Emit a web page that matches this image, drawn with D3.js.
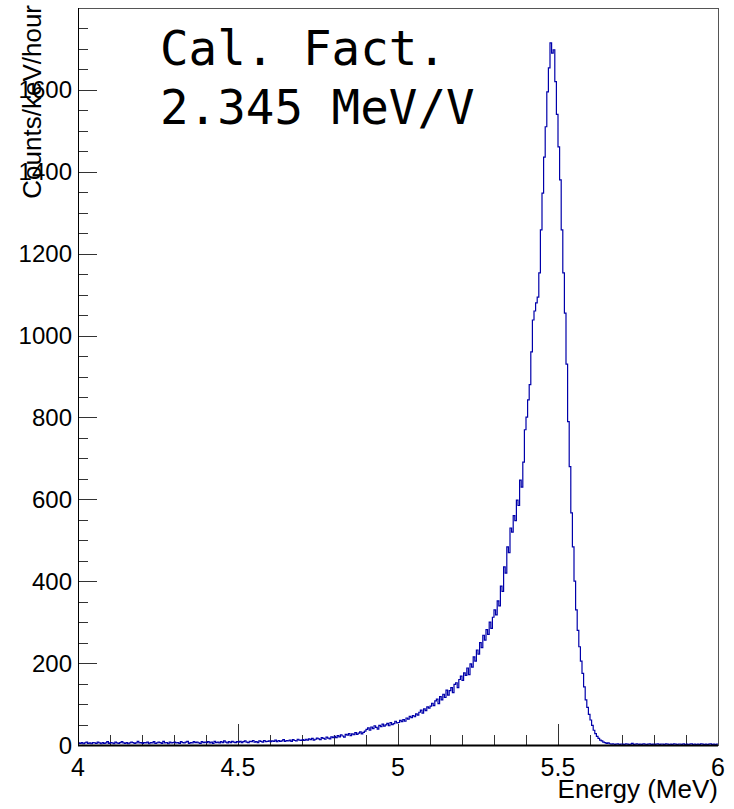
<!DOCTYPE html>
<html>
  <head>
    <meta charset="utf-8">
    <title>Energy spectrum</title>
    <script type="text/javascript" src="https://cdn.jsdelivr.net/npm/d3@7"></script>
    <style>
      body { margin: 0; background: #fff; }
      text { font-family: "Liberation Sans", Arial, Helvetica, sans-serif; }
    </style>
  </head>
  <body>
<script type="text/javascript">
// histogram: 400 bins from 4 to 6 MeV (0.005 MeV wide)
var binLo = 4, binHi = 6, binW = 0.005;
var counts = [
  // 4.0 - 4.5
  5,4,6,3,5,7,4,5,3,6,5,4,7,5,3,6,4,5,8,4,
  6,5,3,7,5,4,6,8,5,4,6,3,5,7,6,4,5,9,5,6,
  4,6,5,7,3,6,5,8,4,5,7,6,4,9,5,6,3,7,5,6,
  7,5,6,4,8,6,5,7,9,4,6,5,8,6,7,5,4,8,6,7,
  6,8,5,7,4,9,6,7,5,8,6,10,7,5,8,6,9,7,6,8,
  // 4.5 - 5.0
  7,9,6,8,10,7,6,9,8,11,7,8,6,10,9,7,11,8,9,10,
  8,10,9,12,8,11,9,10,13,9,11,10,12,9,13,11,10,14,12,11,
  13,11,14,12,15,13,16,12,14,17,15,13,18,16,14,19,17,15,20,18,
  21,18,23,20,25,22,19,26,24,28,23,27,25,30,26,29,32,27,31,34,
  38,42,36,44,40,47,43,39,48,45,51,46,49,53,47,55,50,52,58,54,
  // 5.0 - 5.5
  55,60,57,62,58,66,63,70,67,72,69,76,73,80,85,78,88,84,93,90,
  95,102,96,108,112,101,118,110,124,116,134,122,133,140,128,148,152,140,160,168,
  158,176,170,188,172,198,190,215,205,232,222,250,238,268,256,282,270,300,285,312,
  330,318,352,340,388,375,435,420,484,470,530,520,560,548,598,585,647,630,691,770,
  801,843,880,960,1038,1060,1080,1094,1153,1258,1348,1436,1510,1595,1654,1715,1690,1698,1620,1540,
  // 5.5 - 6.0
  1461,1380,1258,1153,1055,930,790,680,567,484,400,330,280,240,205,175,142,110,92,75,
  61,48,36,28,21,16,12,10,7,6,4,5,3,2,3,1,2,3,1,2,
  2,1,3,2,1,2,4,1,2,3,1,2,1,3,2,1,2,3,1,2,
  1,2,3,1,2,2,1,3,2,1,2,1,3,2,1,2,2,1,3,1,
  2,1,2,3,1,2,1,2,1,3,2,1,2,1,2,3,1,2,1,2
];
var xMajor = [4, 4.5, 5, 5.5, 6];
var xTickLabels = ["4", "4.5", "5", "5.5", "6"];
var yMajor = [0, 200, 400, 600, 800, 1000, 1200, 1400, 1600];
var yMax = 1800;
var titleLines = ["Cal. Fact.", "2.345 MeV/V"];

var w = 734, h = 809;
var padL = 78, padR = 718, padT = 8, padB = 745;
var lineColor = "#0000aa";

var svg = d3.select("body")
            .append("svg")
            .attr("width", w)
            .attr("height", h);

var x = d3.scaleLinear().domain([binLo, binHi]).range([padL, padR]);
var y = d3.scaleLinear().domain([0, yMax]).range([padB, padT]);

// ticks drawn inside the frame, ROOT style
var xMinor = d3.range(21).map(function(i){ return binLo + i * 0.1; });
var yMinor = d3.range(0, yMax, 50);

svg.append("g").selectAll("line")
   .data(xMinor)
   .enter().append("line")
   .attr("x1", function(d){ return Math.round(x(d)) + 0.5; })
   .attr("x2", function(d){ return Math.round(x(d)) + 0.5; })
   .attr("y1", padB)
   .attr("y2", function(d){
      var major = xMajor.some(function(m){ return Math.abs(m - d) < 1e-6; });
      return padB - (major ? 21 : 10);
   })
   .attr("stroke", "#333")
   .attr("stroke-width", 1);

svg.append("g").selectAll("line")
   .data(yMinor)
   .enter().append("line")
   .attr("y1", function(d){ return Math.round(y(d)) + 0.5; })
   .attr("y2", function(d){ return Math.round(y(d)) + 0.5; })
   .attr("x1", padL)
   .attr("x2", function(d){ return padL + (d % 200 === 0 ? 19 : 10); })
   .attr("stroke", "#333")
   .attr("stroke-width", 1);

// step outline of the histogram
var steps = [];
counts.forEach(function(c, i){
  var e0 = binLo + i * binW;
  steps.push([e0, c]);
  steps.push([e0 + binW, c]);
});
var stepLine = d3.line()
                 .x(function(d){ return x(d[0]); })
                 .y(function(d){ return y(d[1]); });
svg.append("path")
   .datum(steps)
   .attr("d", stepLine)
   .attr("fill", "none")
   .attr("stroke", lineColor)
   .attr("stroke-width", 1.2);

// frame
svg.append("rect")
   .attr("x", padL + 0.5)
   .attr("y", padT + 0.5)
   .attr("width", padR - padL)
   .attr("height", padB - padT)
   .attr("fill", "none")
   .attr("stroke", "#555")
   .attr("stroke-width", 1);
svg.append("line")
   .attr("x1", padL).attr("x2", padR)
   .attr("y1", padB + 0.5).attr("y2", padB + 0.5)
   .attr("stroke", "#000").attr("stroke-width", 2);
svg.append("line")
   .attr("x1", padL + 0.5).attr("x2", padL + 0.5)
   .attr("y1", padT).attr("y2", padB)
   .attr("stroke", "#000").attr("stroke-width", 1);

// tick labels
svg.append("g").selectAll("text")
   .data(xMajor)
   .enter().append("text")
   .attr("x", function(d){ return x(d); })
   .attr("y", 776)
   .attr("text-anchor", "middle")
   .attr("font-size", 25)
   .text(function(d, i){ return xTickLabels[i]; });

svg.append("g").selectAll("text")
   .data(yMajor)
   .enter().append("text")
   .attr("x", 72)
   .attr("y", function(d){ return y(d) + 8.5; })
   .attr("text-anchor", "end")
   .attr("font-size", 24)
   .text(function(d){ return d; });

// axis titles
svg.append("text")
   .attr("x", padR)
   .attr("y", 798)
   .attr("text-anchor", "end")
   .attr("font-size", 26)
   .text("Energy (MeV)");

svg.append("text")
   .attr("transform", "translate(41,5) rotate(-90)")
   .attr("text-anchor", "end")
   .attr("font-size", 26)
   .text("Counts/keV/hour");

// calibration note
svg.append("g").selectAll("text")
   .data(titleLines)
   .enter().append("text")
   .attr("x", 160)
   .attr("y", function(d, i){ return 65 + i * 59; })
   .style("font-family", "'DejaVu Sans Mono', monospace")
   .attr("font-size", 47.5)
   .text(function(d){ return d; });
</script>
  </body>
</html>
